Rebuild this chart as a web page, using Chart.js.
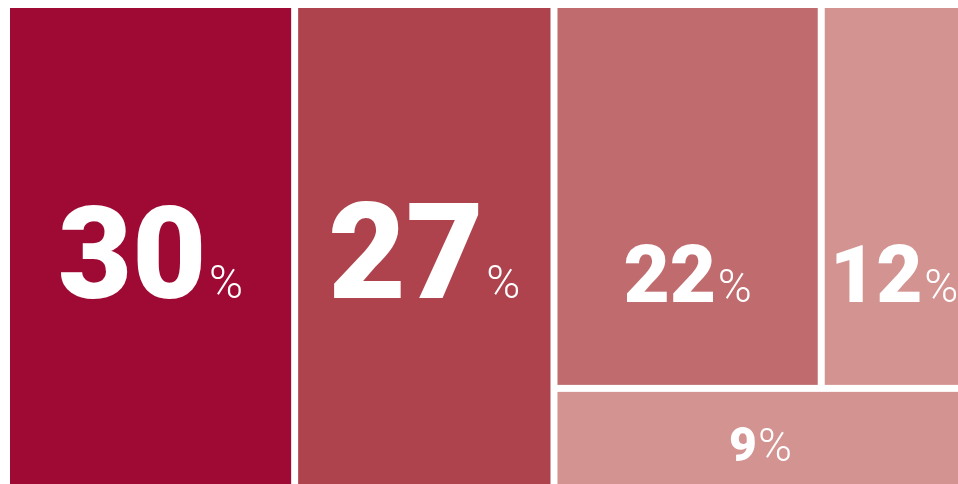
<!DOCTYPE html>
<html>
<head>
<meta charset="utf-8">
<script src="https://cdn.jsdelivr.net/npm/chart.js@4"></script>
<style>
  html, body { margin: 0; padding: 0; background: #fff; overflow: hidden; }
  #wrap { position: absolute; left: 0; top: 0; width: 967px; height: 490px; }
</style>
</head>
<body>
<div id="wrap"><canvas id="chart"></canvas></div>
<script>
const labels = ["A", "B", "C", "D", "E"];
const values = [30, 27, 22, 12, 9];
const colors = ["#9e0a33", "#ae434d", "#c06c6e", "#d39391", "#d39391"];

// how the tiles are grouped: columns first, then rows, then columns again
const groups = [0, 1, [[2, 3], 4]];

// label styling per tile
const numberSizes = [128, 134, 80, 80, 48];
const baselineFracs = [0.606, 0.606, 0.779, 0.779, 0.727];

function sumOf(node) {
  if (Array.isArray(node)) return node.reduce((s, n) => s + sumOf(n), 0);
  return values[node];
}

// slice and dice the 0..100 square from the values
function layout(node, x0, y0, x1, y1, horizontal, out) {
  if (!Array.isArray(node)) {
    out[node] = { x0, y0, x1, y1 };
    return out;
  }
  const total = sumOf(node);
  let pos = horizontal ? x0 : y0;
  node.forEach((child) => {
    const span = ((horizontal ? x1 - x0 : y1 - y0) * sumOf(child)) / total;
    if (horizontal) layout(child, pos, y0, pos + span, y1, !horizontal, out);
    else layout(child, x0, pos, x1, pos + span, !horizontal, out);
    pos += span;
  });
  return out;
}

const tiles = layout(groups, 0, 0, 100, 100, true, []);

const treemap = {
  id: "treemap",
  afterDatasetsDraw(chart) {
    const { ctx, scales } = chart;
    const gap = 3.5;
    ctx.save();
    tiles.forEach((t, i) => {
      const left = scales.x.getPixelForValue(t.x0) + gap;
      const right = scales.x.getPixelForValue(t.x1) - gap;
      const top = scales.y.getPixelForValue(t.y0) + gap;
      const bottom = scales.y.getPixelForValue(t.y1) - gap;
      ctx.fillStyle = colors[i];
      ctx.fillRect(left, top, right - left, bottom - top);

      const num = String(values[i]);
      const numFont = `900 ${numberSizes[i]}px Roboto`;
      const pctFont = `300 46px Roboto`;
      ctx.font = numFont;
      const wNum = ctx.measureText(num).width;
      ctx.font = pctFont;
      const wPct = ctx.measureText("%").width;
      const pad = numberSizes[i] * 0.02;
      const total = wNum + pad + wPct;
      const cx = (left + right) / 2;
      const base = top + (bottom - top) * baselineFracs[i];
      ctx.fillStyle = "#ffffff";
      ctx.textBaseline = "alphabetic";
      ctx.textAlign = "left";
      ctx.font = numFont;
      ctx.fillText(num, cx - total / 2, base);
      ctx.font = pctFont;
      ctx.fillText("%", cx - total / 2 + wNum + pad, base);
    });
    ctx.restore();
  },
};

const config = {
  type: "scatter",
  data: {
    labels: labels,
    datasets: [
      {
        label: "Share",
        data: tiles.map((t) => ({ x: (t.x0 + t.x1) / 2, y: (t.y0 + t.y1) / 2 })),
        pointRadius: 0,
        pointHoverRadius: 0,
      },
    ],
  },
  options: {
    responsive: true,
    maintainAspectRatio: false,
    animation: false,
    layout: {
      padding: { left: 6.5, top: 4.5, right: 0, bottom: 0 },
    },
    scales: {
      x: { type: "linear", min: 0, max: 100, display: false },
      y: { type: "linear", min: 0, max: 100, reverse: true, display: false },
    },
    plugins: {
      legend: { display: false },
      tooltip: { enabled: false },
    },
  },
  plugins: [treemap],
};

new Chart(document.getElementById("chart"), config);
</script>
</body>
</html>
